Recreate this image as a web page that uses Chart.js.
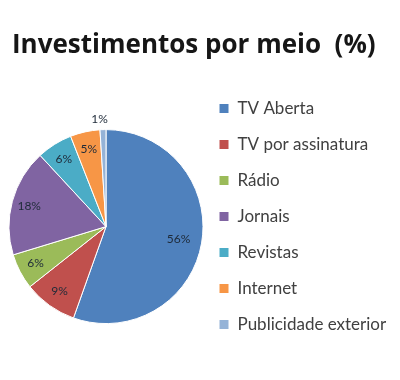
<!DOCTYPE html>
<html><head><meta charset="utf-8">
<script src="https://cdn.jsdelivr.net/npm/chart.js@4"></script>
<style>html,body{margin:0;padding:0;background:#fff}#w{width:400px;height:380px}</style>
</head><body><div id="w"><canvas id="c" width="400" height="380"></canvas></div>
<script>
const categories = ["TV Aberta","TV por assinatura","Rádio","Jornais","Revistas","Internet","Publicidade exterior"];
const values = [56, 9, 6, 18, 6, 5, 1];
const colors = ["#4F81BD","#C0504D","#9BBB59","#8064A2","#4BACC6","#F79646","#95B3D7"];
const titleText = "Investimentos por meio  (%)";

const labelPlugin = {
  id: 'sliceLabels',
  afterDatasetsDraw(chart) {
    const ctx = chart.ctx;
    const meta = chart.getDatasetMeta(0);
    ctx.save();
    ctx.font = '12px Lato';
    ctx.fillStyle = '#1e2a38';
    ctx.textAlign = 'center';
    ctx.textBaseline = 'middle';
    meta.data.forEach((arc, i) => {
      const p = arc.getProps(['x','y','startAngle','endAngle','outerRadius'], true);
      const mid = (p.startAngle + p.endAngle) / 2;
      const small = values[i] <= 2;
      const r = small ? p.outerRadius + 11 : p.outerRadius * (values[i] > 40 ? 0.76 : 0.82);
      ctx.fillText(values[i] + '%', p.x + Math.cos(mid) * r - (small ? 3 : 0), p.y + Math.sin(mid) * r);
    });
    ctx.restore();
  }
};

new Chart(document.getElementById('c'), {
  type: 'pie',
  data: { labels: categories, datasets: [{ data: values, backgroundColor: colors, borderColor: '#ffffff', borderWidth: 1, radius: 97 }] },
  options: {
    responsive: false, animation: false,
    layout: { padding: { left: 12, bottom: 28, right: 12, top: 0 } },
    plugins: {
      title: { display: true, text: titleText, align: 'start', color: '#161616',
        font: { family: 'Open Sans', size: 26, weight: 'bold' }, padding: { top: 30, bottom: 40 } },
      legend: { position: 'right', align: 'end',
        labels: { color: '#404040', font: { family: 'Lato', size: 17 }, boxWidth: 10, boxHeight: 10, padding: 19 } },
      tooltip: { enabled: false }
    }
  },
  plugins: [labelPlugin]
});
</script></body></html>
